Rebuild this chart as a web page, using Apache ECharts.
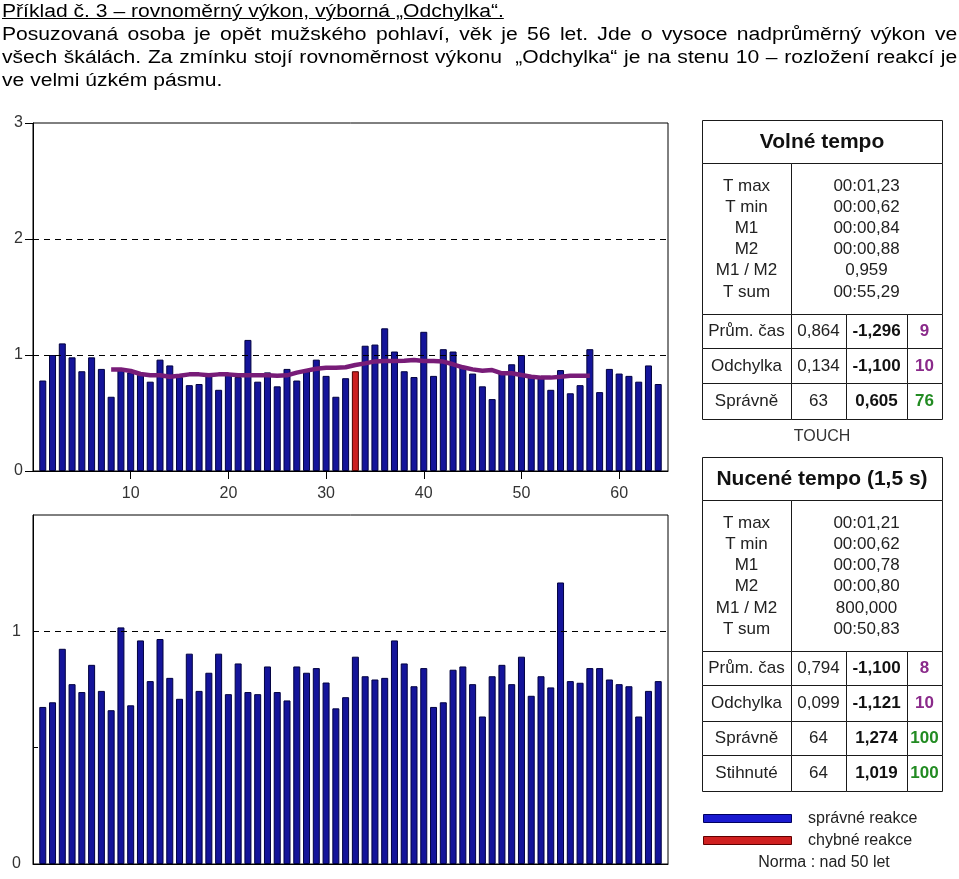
<!DOCTYPE html>
<html>
<head>
<meta charset="utf-8">
<script src="https://cdn.jsdelivr.net/npm/echarts@6/dist/echarts.min.js"></script>
<style>
  html, body { margin:0; padding:0; background:#fff; }
  #chart { position:absolute; left:0; top:0; width:959px; height:879px; }
  #txt { position:absolute; left:2px; top:0; width:815px; font:18px/23px "Liberation Sans", Arial, sans-serif; color:#000; z-index:2;
         transform:scaleX(1.172); transform-origin:0 0; white-space:nowrap; }
  #txt .u { text-decoration:underline; }
  #txt .j { text-align:justify; text-align-last:justify; }
</style>
</head>
<body>
<div id="chart"></div>
<div id="txt">
  <div><span class="u">Příklad č. 3 – rovnoměrný výkon, výborná „Odchylka“.</span></div>
  <div class="j">Posuzovaná osoba je opět mužského pohlaví, věk je 56 let. Jde o vysoce nadprůměrný výkon ve</div>
  <div class="j">všech škálách. Za zmínku stojí rovnoměrnost výkonu &nbsp;„Odchylka“ je na stenu 10 – rozložení reakcí je</div>
  <div>ve velmi úzkém pásmu.</div>
</div>
<script>
// ---------- DATA ----------
const freeTempo = [0.78,1.00,1.10,0.98,0.86,0.98,0.88,0.64,0.87,0.85,
  0.83,0.77,0.96,0.91,0.81,0.74,0.75,0.83,0.70,0.83,
  0.81,1.13,0.77,0.85,0.73,0.88,0.78,0.86,0.96,0.82,
  0.64,0.80,0.86,1.08,1.09,1.23,1.03,0.86,0.81,1.20,
  0.82,1.05,1.03,0.90,0.84,0.73,0.62,0.86,0.92,1.00,
  0.81,0.80,0.70,0.87,0.67,0.74,1.05,0.68,0.88,0.84,
  0.82,0.77,0.91,0.75];
const errorTrials = [33];
const movingAvgStart = 8;
const movingAvg = [0.876,0.876,0.862,0.836,0.825,0.825,0.813,0.822,0.833,0.833,
  0.825,0.833,0.833,0.825,0.825,0.825,0.825,0.822,0.825,0.848,
  0.865,0.882,0.891,0.891,0.894,0.914,0.928,0.945,0.948,0.948,
  0.951,0.957,0.948,0.948,0.943,0.920,0.894,0.876,0.865,0.870,
  0.842,0.842,0.828,0.813,0.805,0.805,0.813,0.822,0.822,0.822];
const forcedTempo = [0.675,0.695,0.925,0.773,0.739,0.856,0.744,0.661,1.017,0.682,
  0.961,0.786,0.967,0.800,0.710,0.904,0.744,0.822,0.904,0.730,
  0.862,0.739,0.730,0.849,0.739,0.703,0.849,0.822,0.842,0.780,
  0.669,0.717,0.891,0.807,0.793,0.800,0.961,0.862,0.764,0.842,
  0.675,0.695,0.835,0.849,0.773,0.634,0.807,0.856,0.773,0.891,
  0.723,0.807,0.759,1.210,0.786,0.779,0.842,0.842,0.793,0.773,
  0.764,0.634,0.744,0.786];
const xTicks = [10,20,30,40,50,60];
const topYTicks = [0,1,2,3];
const bottomYLabels = [0,1];
const refLinesTop = [1,2];
const refLinesBottom = [1];

const freeTitle = 'Volné tempo';
const statLabels = ['T max','T min','M1','M2','M1 / M2','T sum'];
const freeStatValues = ['00:01,23','00:00,62','00:00,84','00:00,88','0,959','00:55,29'];
const freeRows = [['Prům. čas','0,864','-1,296','9'],['Odchylka','0,134','-1,100','10'],['Správně','63','0,605','76']];
const freeFooter = 'TOUCH';
const forcedTitle = 'Nucené tempo (1,5 s)';
const forcedStatValues = ['00:01,21','00:00,62','00:00,78','00:00,80','800,000','00:50,83'];
const forcedRows = [['Prům. čas','0,794','-1,100','8'],['Odchylka','0,099','-1,121','10'],['Správně','64','1,274','100'],['Stihnuté','64','1,019','100']];
const legendLabels = ['správné reakce','chybné reakce'];
const normLabel = 'Norma : nad 50 let';

// ---------- STYLE ----------
const BLUE = '#14149a', BLUE_B = '#000040', RED = '#cc2020', RED_B = '#4a0000';
const PURPLE = '#781c78';
const FF = '"Liberation Sans", Arial, sans-serif';
const F = '17px ' + FF, FB = 'bold 17px ' + FF;

const chart = echarts.init(document.getElementById('chart'), null, {renderer:'canvas'});

function barData(arr, errs) {
  return arr.map((v, i) => {
    const t = i + 1;
    if (errs.indexOf(t) >= 0) return {value:[t, v], itemStyle:{color:RED, borderColor:RED_B}};
    return [t, v];
  });
}

const els = [];
const X = [702, 791, 846, 907, 942];
const cx = (a, b) => (a + b) / 2;
function rect(x1, y1, x2, y2, fill, stroke) {
  els.push({type:'rect', shape:{x:x1 + 0.5, y:y1 + 0.5, width:x2 - x1, height:y2 - y1},
    style:{fill:fill || '#fff', stroke:stroke || '#1a1a1a', lineWidth:1}, z:1, silent:true});
}
function text(s, x, y, font, fill, align) {
  els.push({type:'text', x:x, y:y, style:{text:s, font:font, fill:fill, align:align || 'center', verticalAlign:'middle'}, z:2, silent:true});
}
function table(title, values, rows, Y, statsTop, statsStep) {
  rect(X[0], Y[0], X[4], Y[1]);
  text(title, cx(X[0], X[4]), cx(Y[0], Y[1]) + 1, 'bold 21px ' + FF, '#111');
  rect(X[0], Y[1], X[1], Y[2]);
  rect(X[1], Y[1], X[4], Y[2]);
  statLabels.forEach((s, i) => {
    const y = statsTop + i * statsStep;
    text(s, cx(X[0], X[1]), y, F, '#222');
    text(values[i], cx(X[1], X[4]), y, F, '#222');
  });
  rows.forEach((r, i) => {
    const y1 = Y[2 + i], y2 = Y[3 + i], ym = cx(y1, y2) + 0.5;
    for (let c = 0; c < 4; c++) rect(X[c], y1, X[c + 1], y2);
    text(r[0], cx(X[0], X[1]), ym, F, '#222');
    text(r[1], cx(X[1], X[2]), ym, F, '#222');
    text(r[2], cx(X[2], X[3]), ym, FB, '#111');
    text(r[3], cx(X[3], X[4]), ym, FB, i < 2 ? '#8a2a8a' : '#228b22');
  });
}
table(freeTitle, freeStatValues, freeRows, [120, 163, 314, 348, 383, 419], 186, 21.2);
text(freeFooter, 822, 437, '16px ' + FF, '#333');
table(forcedTitle, forcedStatValues, forcedRows, [457, 500, 651, 685, 721, 755, 791], 523.5, 21.1);
rect(703, 814, 791, 822, '#1a1ad0', '#000060');
rect(703, 836, 791, 844, '#d02020', '#600000');
text(legendLabels[0], 808, 819, '16px ' + FF, '#222', 'left');
text(legendLabels[1], 808, 841, '16px ' + FF, '#222', 'left');
text(normLabel, 824, 862.5, '16px ' + FF, '#222');

const axisLabelStyle = {color:'#333', fontFamily:FF, fontSize:16};
const dashed = {type:[6,5], color:'#000', width:1};

const option = {
  backgroundColor:'#fff',
  animation:false,
  grid:[
    {left:33, top:123, width:635, height:348, show:true, borderColor:'#000', borderWidth:1, backgroundColor:'transparent'},
    {left:33, top:515, width:635, height:349, show:true, borderColor:'#000', borderWidth:1, backgroundColor:'transparent'}
  ],
  xAxis:[
    {type:'value', gridIndex:0, min:0, max:65, interval:10,
      axisLine:{show:true, lineStyle:{color:'#000', width:1}},
      axisTick:{show:true, length:8, inside:false, customValues:xTicks, lineStyle:{color:'#000'}},
      axisLabel:{show:true, margin:15, customValues:xTicks, ...axisLabelStyle},
      splitLine:{show:false}},
    {type:'value', gridIndex:1, min:0, max:65, interval:10,
      axisLine:{show:true, lineStyle:{color:'#000', width:1}},
      axisTick:{show:false}, axisLabel:{show:false}, splitLine:{show:false}}
  ],
  yAxis:[
    {type:'value', gridIndex:0, min:0, max:3, interval:1,
      axisLine:{show:true, lineStyle:{color:'#000', width:1}},
      axisTick:{show:true, length:8, inside:false, customValues:topYTicks, lineStyle:{color:'#000'}},
      axisLabel:{show:true, margin:10, customValues:topYTicks, ...axisLabelStyle},
      splitLine:{show:false}},
    {type:'value', gridIndex:1, min:0, max:1.5, interval:0.5,
      axisLine:{show:true, lineStyle:{color:'#000', width:1}},
      axisTick:{show:true, length:5, inside:true, customValues:[0.5], lineStyle:{color:'#000'}},
      axisLabel:{show:true, margin:12, customValues:bottomYLabels, ...axisLabelStyle},
      splitLine:{show:false}}
  ],
  series:[
    {type:'bar', xAxisIndex:0, yAxisIndex:0, barWidth:7, data:barData(freeTempo, errorTrials),
      itemStyle:{color:BLUE, borderColor:BLUE_B, borderWidth:1},
      markLine:{silent:true, symbol:'none', label:{show:false}, lineStyle:dashed,
        data:refLinesTop.map(v => ({yAxis:v}))}},
    {type:'line', xAxisIndex:0, yAxisIndex:0, showSymbol:false, symbol:'none',
      data:movingAvg.map((v, i) => [movingAvgStart + i, v]),
      lineStyle:{color:PURPLE, width:4.5}, z:5},
    {type:'bar', xAxisIndex:1, yAxisIndex:1, barWidth:7, data:barData(forcedTempo, []),
      itemStyle:{color:BLUE, borderColor:BLUE_B, borderWidth:1},
      markLine:{silent:true, symbol:'none', label:{show:false}, lineStyle:dashed,
        data:refLinesBottom.map(v => ({yAxis:v}))}}
  ],
  graphic:{elements:els}
};
chart.setOption(option);
</script>
</body>
</html>
